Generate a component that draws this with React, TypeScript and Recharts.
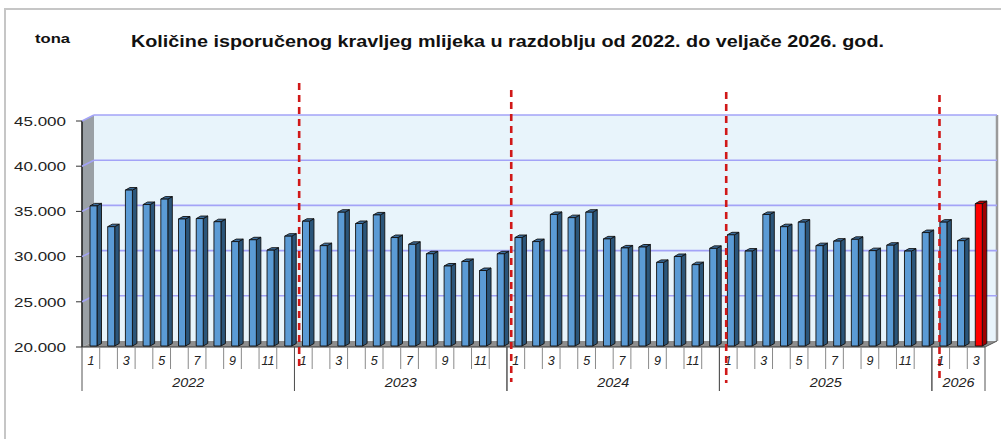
import React from 'react';
import { BarChart, Bar, XAxis, YAxis, ReferenceLine, ReferenceArea, Cell } from 'recharts';

// ---------- data ----------
const years = ['2022', '2023', '2024', '2025', '2026'];
const values2022 = [35500, 33200, 37250, 35650, 36250, 34050, 34100, 33750, 31550, 31750, 30600, 32150];
const values2023 = [33800, 31100, 34800, 33550, 34500, 32000, 31250, 30200, 28850, 29350, 28350, 30200];
const values2024 = [32000, 31550, 34550, 34200, 34800, 31850, 30850, 30950, 29250, 29900, 29000, 30800];
const values2025 = [32300, 30500, 34550, 33200, 33700, 31100, 31600, 31800, 30550, 31150, 30500, 32550];
const values2026 = [33700, 31650, 35750];
const valuesByYear = [values2022, values2023, values2024, values2025, values2026];
const monthTickLabels = ['1', '', '3', '', '5', '', '7', '', '9', '', '11', ''];
const yTicks = [20000, 25000, 30000, 35000, 40000, 45000];
const titleText = 'Količine isporučenog kravljeg mlijeka u razdoblju od 2022. do veljače 2026. god.';
const unitText = 'tona';

const data = years.flatMap((yr, yi) =>
  valuesByYear[yi].map((v, mi) => ({ key: `${yr}-${mi + 1}`, year: yr, yearIndex: yi, month: mi + 1, value: v }))
);
const highlightIndex = data.length - 1;

// ---------- layout / style ----------
const W = 1001;
const H = 439;
const MARGIN = { top: 121, right: 16, bottom: 42, left: 22 };
const Y_W = 60;
const X_H = 50;
const PLOT_LEFT = MARGIN.left + Y_W;
const PLOT_BOTTOM = H - MARGIN.bottom - X_H;
const PLOT_W = W - PLOT_LEFT - MARGIN.right;
const DEPTH_X = 12;
const DEPTH_Y = 6;
const FONT = '"Liberation Sans", Arial, sans-serif';
const GRID_COLOR = '#a3a3f7';
const dividerStyles = [
  { dx: 4.7, top: 38, bottom: 24 },
  { dx: 4.3, top: 31, bottom: 35 },
  { dx: 6.8, top: 29, bottom: 36 },
  { dx: 7.6, top: 26, bottom: 35 },
];

const palette = {
  blue: { front: '#5b9bd5', top: '#3c6e9e', side: '#2b5579' },
  red: { front: '#ff0000', top: '#c80000', side: '#a00000' },
};

const fmt = (v: number) => `${Math.floor(v / 1000)}.${String(v % 1000).padStart(3, '0')}`;

const Walls = (props: any) => {
  const { x, y, width, height } = props;
  const L = x, T = y, R = x + width, B = y + height;
  return (
    <g>
      <rect x={L + DEPTH_X} y={T - DEPTH_Y} width={R - L} height={B - T} fill="#e8f4fb" />
      <polygon
        points={`${L},${T} ${L + DEPTH_X},${T - DEPTH_Y} ${L + DEPTH_X},${B - DEPTH_Y} ${L},${B}`}
        fill="#9aa0a5"
      />
      <polygon
        points={`${L},${B} ${L + DEPTH_X},${B - DEPTH_Y} ${R + DEPTH_X},${B - DEPTH_Y} ${R},${B}`}
        fill="#8e8e8e"
      />
      <line x1={R + DEPTH_X} y1={T - DEPTH_Y} x2={R + DEPTH_X} y2={B - DEPTH_Y} stroke="#9a9a9a" strokeWidth={2.5} />
      <line x1={L} y1={T} x2={L} y2={B} stroke="#222" strokeWidth={1.6} />
      <line x1={L} y1={B} x2={R} y2={B} stroke="#333" strokeWidth={1.2} />
      <line x1={R} y1={B} x2={R + DEPTH_X} y2={B - DEPTH_Y} stroke="#555" strokeWidth={1} />
    </g>
  );
};

const GridShape = (props: any) => {
  const { x1, y1, x2 } = props;
  return (
    <g>
      <line x1={x1} y1={y1} x2={x1 + DEPTH_X} y2={y1 - DEPTH_Y} stroke={GRID_COLOR} strokeWidth={1.6} />
      <line x1={x1 + DEPTH_X} y1={y1 - DEPTH_Y} x2={x2 + DEPTH_X} y2={y1 - DEPTH_Y} stroke={GRID_COLOR} strokeWidth={1.6} />
    </g>
  );
};

const makeDivider = (i: number) => (props: any) => {
  const { x1, y1, y2 } = props;
  const s = dividerStyles[i];
  const top = Math.min(y1, y2);
  const bot = Math.max(y1, y2);
  return (
    <line
      x1={x1 + s.dx}
      x2={x1 + s.dx}
      y1={top - s.top}
      y2={bot + s.bottom}
      stroke="#d01818"
      strokeWidth={2.6}
      strokeDasharray="7 5"
    />
  );
};

const Bar3D = (props: any) => {
  const { x, y, width, height, index } = props;
  if (height == null || isNaN(height)) return null;
  const c = index === highlightIndex ? palette.red : palette.blue;
  const fx = x + 3;
  const fy = y - 1;
  const bot = y + height - 1;
  const w = width;
  const dx = 4.5;
  const dy = 2.5;
  return (
    <g stroke="#111" strokeWidth={0.9} strokeLinejoin="round">
      <polygon points={`${fx + w},${fy} ${fx + w + dx},${fy - dy} ${fx + w + dx},${bot - dy} ${fx + w},${bot}`} fill={c.side} />
      <polygon points={`${fx},${fy} ${fx + w},${fy} ${fx + w + dx},${fy - dy} ${fx + dx},${fy - dy}`} fill={c.top} />
      <rect x={fx} y={fy} width={w} height={bot - fy} fill={c.front} />
    </g>
  );
};

const YTick = (props: any) => {
  const { y, payload } = props;
  return (
    <g>
      <line x1={PLOT_LEFT - 6} x2={PLOT_LEFT} y1={y} y2={y} stroke="#333" strokeWidth={1} />
      <text
        x={PLOT_LEFT - 16}
        y={y + 4.8}
        textAnchor="end"
        fontFamily={FONT}
        fontSize={13.5}
        fill="#222"
        textLength={52}
        lengthAdjust="spacingAndGlyphs"
      >
        {fmt(payload.value)}
      </text>
    </g>
  );
};

const XTick = (props: any) => {
  const { payload } = props;
  const idx = payload.index ?? props.index;
  const d = data[idx];
  if (!d) return null;
  const band = payload.offset ? payload.offset * 2 : PLOT_W / data.length;
  const cx = payload.coordinate;
  const left = cx - band / 2;
  const right = cx + band / 2;
  const count = valuesByYear[d.yearIndex].length;
  const isLast = d.month === count;
  const label = monthTickLabels[d.month - 1];
  const A = PLOT_BOTTOM;
  return (
    <g>
      <line x1={right} x2={right} y1={A} y2={isLast ? A + 44 : A + 22} stroke={isLast ? '#555' : '#8a8a8a'} strokeWidth={1} />
      {d.month === 1 && <line x1={left} x2={left} y1={A} y2={A + 44} stroke="#555" strokeWidth={1} />}
      {label && (
        <text x={cx} y={A + 18} textAnchor="middle" fontFamily={FONT} fontStyle="italic" fontSize={12.5} fill="#222">
          {label}
        </text>
      )}
      {d.month === 1 && (
        <text
          x={left + (count * band) / 2}
          y={A + 40.3}
          textAnchor="middle"
          fontFamily={FONT}
          fontStyle="italic"
          fontSize={12.5}
          fill="#222"
          textLength={32}
          lengthAdjust="spacingAndGlyphs"
        >
          {d.year}
        </text>
      )}
    </g>
  );
};

export default function App() {
  return (
    <div style={{ position: 'absolute', left: 0, top: 0, width: W, height: H, background: '#fff', overflow: 'hidden' }}>
      <div
        style={{
          position: 'absolute',
          left: 4,
          top: 8,
          width: W,
          height: H,
          borderLeft: '2px solid #c6c6c6',
          borderTop: '2px solid #c6c6c6',
          boxSizing: 'border-box',
        }}
      />
      <svg style={{ position: 'absolute', left: 0, top: 0 }} width={W} height={80}>
        <text x={35} y={43} fontFamily={FONT} fontWeight="bold" fontSize={13} fill="#111" textLength={35} lengthAdjust="spacingAndGlyphs">
          {unitText}
        </text>
        <text
          x={507.5}
          y={46.7}
          textAnchor="middle"
          fontFamily={FONT}
          fontWeight="bold"
          fontSize={17}
          fill="#111"
          textLength={753}
          lengthAdjust="spacingAndGlyphs"
        >
          {titleText}
        </text>
      </svg>
      <div style={{ position: 'absolute', left: 0, top: 0 }}>
        <BarChart width={W} height={H} data={data} margin={MARGIN}>
          <XAxis dataKey="key" interval={0} tick={XTick} axisLine={false} tickLine={false} height={X_H} />
          <YAxis
            domain={[20000, 45000]}
            ticks={yTicks}
            width={Y_W}
            tick={YTick}
            axisLine={false}
            tickLine={false}
            interval={0}
            allowDataOverflow
          />
          <ReferenceArea y1={20000} y2={45000} ifOverflow="visible" shape={Walls} zIndex={-300} />
          {yTicks
            .filter((v) => v > 20000)
            .map((v) => (
              <ReferenceLine key={v} y={v} ifOverflow="visible" shape={GridShape} zIndex={-250} />
            ))}
          <Bar dataKey="value" barSize={7} isAnimationActive={false} shape={Bar3D}>
            {data.map((d, i) => (
              <Cell key={d.key} fill={i === highlightIndex ? palette.red.front : palette.blue.front} />
            ))}
          </Bar>
          {years.slice(1).map((yr, i) => (
            <ReferenceLine
              key={yr}
              x={`${yr}-1`}
              position="start"
              ifOverflow="visible"
              shape={makeDivider(i)}
              zIndex={800}
            />
          ))}
        </BarChart>
      </div>
    </div>
  );
}
